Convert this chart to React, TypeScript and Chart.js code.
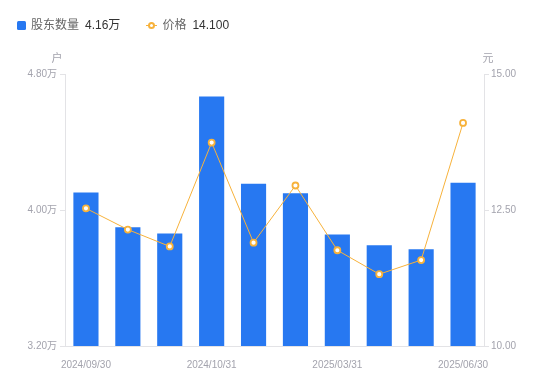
import React, { useEffect, useRef } from "react";
import { Chart, registerables } from "chart.js";

Chart.register(...registerables);

const categories = [
  "2024/09/30", "2024/10/10", "2024/10/18", "2024/10/31", "2024/11/29",
  "2024/12/31", "2025/03/31", "2025/04/30", "2025/05/30", "2025/06/30",
];
const holders = [41030, 38980, 38620, 46680, 41550, 40980, 38560, 37920, 37690, 41600];
const prices = [12.53, 12.14, 11.83, 13.74, 11.9, 12.95, 11.76, 11.32, 11.58, 14.1];
const leftTicks = [32000, 40000, 48000];
const rightTicks = [10, 12.5, 15];
const shownLabelIdx = [0, 3, 6, 9];

const FONT = "'Liberation Sans', 'Noto Sans CJK SC', sans-serif";
const BLUE = "#2778f1";
const ORANGE = "#f7b23b";
const TICK = "#a3a3ad";
const LINE = "#e3e3e6";

const axisTitles = {
  id: "axisTitles",
  afterDraw(chart: any) {
    const ctx = chart.ctx;
    const yl = chart.scales.y;
    const yr = chart.scales.y1;
    ctx.save();
    ctx.font = `11px ${FONT}`;
    ctx.fillStyle = TICK;
    ctx.textAlign = "center";
    ctx.textBaseline = "middle";
    ctx.fillText("户", yl.right - 8, yl.top - 15);
    ctx.fillText("元", yr.left + 4, yr.top - 15);
    ctx.restore();
  },
};

export default function App() {
  const ref = useRef<HTMLCanvasElement>(null);
  useEffect(() => {
    const chart = new Chart(ref.current as HTMLCanvasElement, {
      type: "bar",
      data: {
        labels: categories,
        datasets: [
          {
            type: "line",
            label: "价格",
            data: prices,
            yAxisID: "y1",
            borderColor: ORANGE,
            borderWidth: 1,
            pointRadius: 3,
            pointBorderWidth: 1.8,
            pointBackgroundColor: "#ffffff",
            pointBorderColor: ORANGE,
            tension: 0,
            order: 0,
          } as any,
          {
            type: "bar",
            label: "股东数量",
            data: holders,
            yAxisID: "y",
            backgroundColor: BLUE,
            barPercentage: 0.6,
            categoryPercentage: 1,
            order: 1,
          },
        ],
      },
      options: {
        animation: false,
        responsive: false,
        layout: { padding: { top: 74, left: 0, right: 0, bottom: 0 } },
        plugins: { legend: { display: false }, tooltip: { enabled: false } },
        scales: {
          x: {
            grid: { display: false },
            border: { display: true, color: LINE },
            ticks: {
              autoSkip: false,
              maxRotation: 0,
              padding: 5,
              color: TICK,
              font: { family: FONT, size: 10 },
              callback: (_v: any, i: number) => (shownLabelIdx.includes(i) ? categories[i] : ""),
            },
            afterFit: (s: any) => { s.height = 35; },
          },
          y: {
            position: "left",
            min: 32000,
            max: 48000,
            afterBuildTicks: (s: any) => { s.ticks = leftTicks.map((v) => ({ value: v })); },
            grid: { drawOnChartArea: false, tickLength: 5, color: LINE },
            border: { display: true, color: LINE },
            ticks: {
              padding: 3,
              color: TICK,
              font: { family: FONT, size: 10 },
              callback: (v: any) => (Number(v) / 10000).toFixed(2) + "万",
            },
            afterFit: (s: any) => { s.width = 65; },
          },
          y1: {
            position: "right",
            min: 10,
            max: 15,
            afterBuildTicks: (s: any) => { s.ticks = rightTicks.map((v) => ({ value: v })); },
            grid: { drawOnChartArea: false, tickLength: 5, color: LINE },
            border: { display: true, color: LINE },
            ticks: {
              padding: 2,
              color: TICK,
              font: { family: FONT, size: 10 },
              callback: (v: any) => Number(v).toFixed(2),
            },
            afterFit: (s: any) => { s.width = 66; },
          },
        },
      },
      plugins: [axisTitles],
    });
    return () => chart.destroy();
  }, []);

  const labelStyle: React.CSSProperties = { color: "#666", marginRight: 6 };
  const valueStyle: React.CSSProperties = { color: "#333" };
  return (
    <div style={{ position: "fixed", left: 0, top: 0, width: 550, height: 381, background: "#fff", fontFamily: FONT }}>
      <canvas ref={ref} width={550} height={381} style={{ position: "absolute", left: 0, top: 0 }} />
      <div style={{ position: "absolute", left: 17, top: 17, fontSize: 12, lineHeight: "16px", display: "flex", alignItems: "center", whiteSpace: "nowrap" }}>
        <span style={{ display: "inline-block", width: 9, height: 9, background: BLUE, borderRadius: 1.5, marginRight: 5 }} />
        <span style={labelStyle}>股东数量</span>
        <span style={valueStyle}>4.16万</span>
        <span style={{ position: "relative", display: "inline-block", width: 11, height: 9, marginLeft: 26, marginRight: 5 }}>
          <span style={{ position: "absolute", left: 0, top: 4, width: 11, height: 1.5, background: ORANGE }} />
          <span style={{ position: "absolute", left: 2, top: 1, width: 3, height: 3, border: `2px solid ${ORANGE}`, borderRadius: "50%", background: "#fff" }} />
        </span>
        <span style={labelStyle}>价格</span>
        <span style={valueStyle}>14.100</span>
      </div>
    </div>
  );
}
